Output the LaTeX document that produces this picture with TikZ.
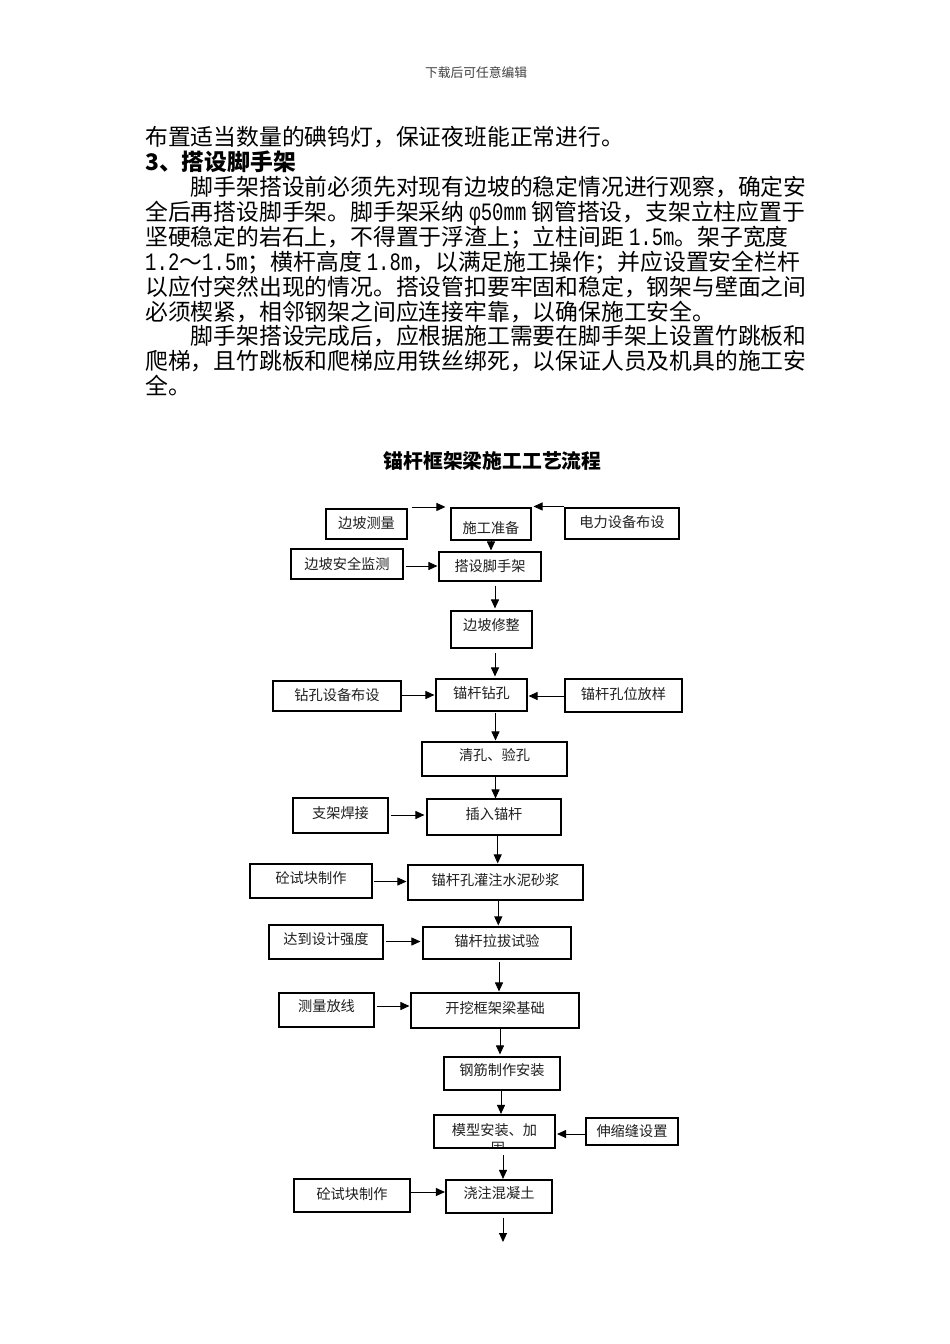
\documentclass[tikz,border=0pt]{standalone}
\usepackage{fontspec}
\setmainfont{Noto Sans CJK SC}
\newfontfamily\latfont{Liberation Mono}[FakeStretch=0.76]
\usetikzlibrary{arrows.meta,calc}
\XeTeXlinebreaklocale "zh"
\XeTeXlinebreakskip=0pt plus 4pt
\newcommand\latx[1]{{\latfont\fontsize{25}{24.9}\selectfont #1}}
\tikzset{
  box/.style={draw=black, line width=1.1pt, inner sep=0pt,
    font=\fontsize{14.2}{17}\selectfont, text=black!88},
  arr/.style={-{Triangle[length=9pt,width=8pt]}, line width=0.9pt},
  body/.style={anchor=base west, inner sep=0pt, font=\fontsize{22.8}{24.9}\selectfont},
}
\newcommand\bx[7]{%
  \node[box, minimum width={#4-#2}, minimum height={#5-#3}] (#1)
    at ({(#2+#4)/2},{(#3+#5)/2}) {\raisebox{#6pt}[0.88em][0.12em]{#7}};}
\newcommand\jline[3]{\node[body] (#1) at (145,#2) {\hbox to 661pt{#3}};}
\newcommand\iline[3]{\node[body] (#1) at (190.6,#2) {\hbox to 615.4pt{#3}};}
\begin{document}
\begin{tikzpicture}[x=1pt,y=-1pt]
\fill[white] (0,0) rectangle (950,1344);
\useasboundingbox (0,0) rectangle (950,1344);

% header
\node[inner sep=0pt, font=\fontsize{12.75}{14}\selectfont, text=black!75] (hdr) at (476,73) {下载后可任意编辑};

% body text
\node[body] (l0) at (145,145.7) {布置适当数量的碘钨灯，保证夜班能正常进行。};
\node[body, font=\fontsize{22.8}{24.9}\selectfont\bfseries] (l1) at (145,170.6) {3、搭设脚手架};
\iline{l2}{195.5}{脚手架搭设前必须先对现有边坡的稳定情况进行观察，确定安}
\jline{l3}{220.4}{全后再搭设脚手架。脚手架采纳\hspace{5pt}\latx{φ50mm}\hspace{5pt}钢管搭设，支架立柱应置于}
\jline{l4}{245.3}{坚硬稳定的岩石上，不得置于浮渣上；立柱间距\hspace{5pt}\latx{1.5m}。架子宽度}
\jline{l5}{270.2}{\latx{1.2}～\latx{1.5m}；横杆高度\hspace{5pt}\latx{1.8m}，以满足施工操作；并应设置安全栏杆}
\jline{l6}{295.1}{以应付突然出现的情况。搭设管扣要牢固和稳定，钢架与壁面之间}
\node[body] (l7) at (145,320.0) {必须楔紧，相邻钢架之间应连接牢靠，以确保施工安全。};
\iline{l8}{344.9}{脚手架搭设完成后，应根据施工需要在脚手架上设置竹跳板和}
\jline{l9}{369.8}{爬梯，且竹跳板和爬梯应用铁丝绑死，以保证人员及机具的施工安}
\node[body] (l10) at (145,394.7) {全。};

% title
\node[inner sep=0pt, font=\fontsize{19.8}{24}\selectfont\bfseries] (title) at (492.5,461) {锚杆框架梁施工工艺流程};

% clipped second line of the 模型 box
\begin{scope}
  \clip (434.6,1115.6) rectangle (554.4,1147.7);
  \node[inner sep=0pt, font=\fontsize{14.2}{17}\selectfont, text=black!88] (gu) at (498,1148.5) {固};
\end{scope}

% boxes
\bx{bpcl}{326}{509}{407}{539}{1}{边坡测量}
\bx{sgzb}{451}{508}{531}{540}{-4}{施工准备}
\bx{dlsb}{565}{508}{679}{539}{1.5}{电力设备布设}
\bx{bpaq}{291}{549}{403}{579}{0}{边坡安全监测}
\bx{dsjs}{439}{552}{541}{581}{0.5}{搭设脚手架}
\bx{bpxz}{451}{611}{532}{648}{4.5}{边坡修整}
\bx{mgzk}{436}{679}{527}{711}{2}{锚杆钻孔}
\bx{zksb}{273}{681}{401}{711}{1}{钻孔设备布设}
\bx{mgkw}{565}{679}{682}{712}{1.5}{锚杆孔位放样}
\bx{qk}{422}{742}{567}{776}{4}{清孔、验孔}
\bx{crmg}{427}{799}{561}{835}{3}{插入锚杆}
\bx{zjhj}{293}{798}{388}{833}{2.5}{支架焊接}
\bx{gz}{408}{865}{583}{900}{2}{锚杆孔灌注水泥砂浆}
\bx{tsk1}{250}{864}{372}{898}{3}{砼试块制作}
\bx{lb}{423}{927}{571}{959}{2}{锚杆拉拔试验}
\bx{ddqd}{269}{925}{383}{959}{3}{达到设计强度}
\bx{kw}{411}{993}{579}{1028}{2.5}{开挖框架梁基础}
\bx{clfx}{279}{993}{374}{1027}{4}{测量放线}
\bx{gj}{444}{1057}{560}{1090}{3}{钢筋制作安装}
\bx{mx}{434}{1115}{555}{1148}{1.5}{模型安装、加}
\bx{ssf}{586}{1118}{678}{1145}{0}{伸缩缝设置}
\bx{jz}{446}{1180}{552}{1213}{3.5}{浇注混凝土}
\bx{tsk2}{294}{1179}{410}{1212}{1.5}{砼试块制作}
\coordinate (fin) at (503,1242);

% vertical connectors
\draw[arr] (sgzb.south) -- ([xshift=1pt,yshift=1pt]dsjs.north);
\draw[arr] ([xshift=5pt,yshift=-4pt]dsjs.south) -- ([xshift=3.5pt,yshift=2pt]bpxz.north);
\draw[arr] ([xshift=3.5pt,yshift=-4pt]bpxz.south) -- ([xshift=13.5pt,yshift=2pt]mgzk.north);
\draw[arr] ([xshift=14pt,yshift=-1pt]mgzk.south) -- ([xshift=1pt,yshift=1pt]qk.north);
\draw[arr] ([xshift=1pt]qk.south) -- ([xshift=1.5pt]crmg.north);
\draw[arr] ([xshift=3.7pt]crmg.south) -- ([xshift=2.2pt,yshift=1pt]gz.north);
\draw[arr] ([xshift=2.8pt]gz.south) -- ([xshift=1.3pt,yshift=1pt]lb.north);
\draw[arr] ([xshift=2pt,yshift=-2.5pt]lb.south) -- ([xshift=4pt,yshift=1pt]kw.north);
\draw[arr] ([xshift=5pt]kw.south) -- ([xshift=-2pt,yshift=2pt]gj.north);
\draw[arr] ([xshift=-1pt]gj.south) -- ([xshift=6.5pt,yshift=0.5pt]mx.north);
\draw[arr] ([xshift=8.5pt,yshift=-6pt]mx.south) -- ([xshift=4pt,yshift=0.5pt]jz.north);
\draw[arr] ([xshift=4pt,yshift=-4pt]jz.south) -- (fin);

% horizontal connectors
\draw[arr] ([xshift=4pt,yshift=1.5pt]bpcl.north east) -- ([xshift=-5pt,yshift=0.5pt]sgzb.north west);
\draw[arr] ([yshift=1pt]dlsb.north west) -- ([xshift=2pt,yshift=1pt]sgzb.north east);
\draw[arr] ([xshift=2pt,yshift=-2pt]bpaq.east) -- ([xshift=-1pt,yshift=0.5pt]dsjs.west);
\draw[arr] ([yshift=1pt]zksb.east) -- ([xshift=-1pt]mgzk.west);
\draw[arr] ([yshift=-0.5pt]mgkw.west) -- ([xshift=1pt,yshift=-1pt]mgzk.east);
\draw[arr] ([xshift=2pt,yshift=0.5pt]zjhj.east) -- ([xshift=-2pt,yshift=2pt]crmg.west);
\draw[arr] ([xshift=1pt,yshift=-0.5pt]tsk1.east) -- ([xshift=-1pt,yshift=1pt]gz.west);
\draw[arr] ([xshift=2pt,yshift=0.5pt]ddqd.east) -- ([xshift=-2pt,yshift=1.5pt]lb.west);
\draw[arr] ([xshift=2pt,yshift=4pt]clfx.east) -- ([xshift=-1pt,yshift=4.5pt]kw.west);
\draw[arr] ([yshift=-2.5pt]ssf.west) -- ([xshift=1.5pt,yshift=-2.5pt]mx.east);
\draw[arr] ([yshift=3.5pt]tsk2.east) -- ([xshift=-0.5pt,yshift=4.5pt]jz.west);
\end{tikzpicture}
\end{document}
